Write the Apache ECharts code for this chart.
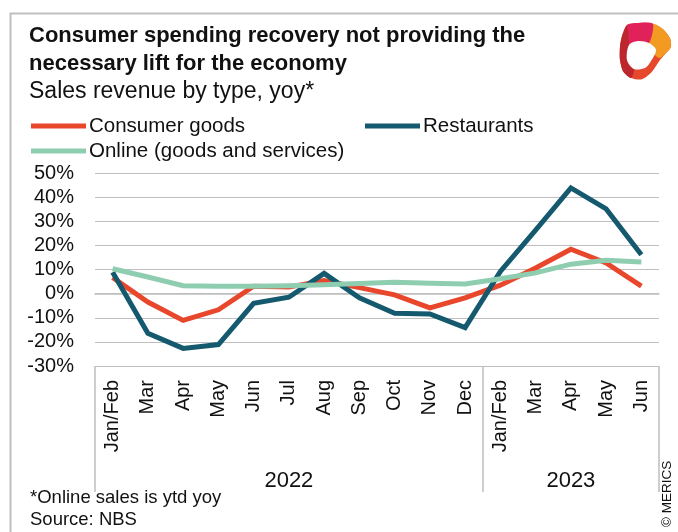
<!DOCTYPE html>
<html>
<head>
<meta charset="utf-8">
<script src="https://cdn.jsdelivr.net/npm/echarts@6/dist/echarts.min.js"></script>
<style>
  html, body { margin: 0; padding: 0; background: #fff; }
  #chart { width: 678px; height: 532px; }
</style>
</head>
<body>
<div id="chart"></div>
<script>
// Month labels (two calendar years) and year groups
const categories = ['Jan/Feb', 'Mar', 'Apr', 'May', 'Jun', 'Jul', 'Aug', 'Sep', 'Oct', 'Nov', 'Dec',
                    'Jan/Feb', 'Mar', 'Apr', 'May', 'Jun'];
const years = ['2022', '2023'];
const yearMonthCounts = [11, 5];

// Sales revenue, year on year change in %
const consumerGoods = [6.7, -3.5, -11.1, -6.7, 3.1, 2.7, 5.4, 2.5, -0.5, -5.9, -1.8, 3.5, 10.6, 18.4, 12.7, 3.1];
const restaurants   = [8.9, -16.4, -22.7, -21.1, -4.0, -1.5, 8.4, -1.7, -8.1, -8.4, -14.1, 9.2, 26.3, 43.8, 35.1, 16.1];
const online        = [10.3, 6.9, 3.3, 3.1, 3.1, 3.3, 3.7, 4.2, 4.7, 4.3, 4.0, 6.2, 8.6, 12.2, 13.8, 13.1];

const seriesNames = ['Consumer goods', 'Restaurants', 'Online (goods and services)'];
const colors = ['#e8472c', '#14596e', '#8ecdb0'];

const FONT = '"Liberation Sans", Arial, sans-serif';
const INK = '#111';
const RULE = '#bfbfbf';

// Year group boundaries and centres on the 0..N band scale
const bounds = [0];
yearMonthCounts.forEach(c => bounds.push(bounds[bounds.length - 1] + c));
const centres = years.map((y, i) => (bounds[i] + bounds[i + 1]) / 2);

const chart = echarts.init(document.getElementById('chart'), null, { renderer: 'canvas' });

function lineSeries(name, data, color) {
  return {
    name, type: 'line', data,
    xAxisIndex: 0, yAxisIndex: 0,
    symbol: 'none', smooth: false,
    lineStyle: { color, width: 5, cap: 'butt', join: 'miter' },
    itemStyle: { color },
    emphasis: { disabled: true },
    animation: false
  };
}

const option = {
  backgroundColor: '#fff',
  animation: false,
  textStyle: { fontFamily: FONT, color: INK },
  title: {
    text: 'Consumer spending recovery not providing the\nnecessary lift for the economy',
    subtext: 'Sales revenue by type, yoy*',
    left: 29, top: 22, padding: 0, itemGap: 2,
    textStyle: { fontFamily: FONT, fontSize: 22, fontWeight: 'bold', color: INK, lineHeight: 28 },
    subtextStyle: { fontFamily: FONT, fontSize: 23, color: INK, lineHeight: 24 }
  },
  legend: [
    {
      data: [seriesNames[0], seriesNames[2]],
      orient: 'vertical', left: 31, top: 114, padding: 0, itemGap: 1,
      itemWidth: 55, itemHeight: 5, icon: 'rect',
      textStyle: { fontFamily: FONT, fontSize: 20.5, color: INK, lineHeight: 24, padding: [0, 0, 0, -2] },
      selectedMode: false
    },
    {
      data: [seriesNames[1]],
      orient: 'vertical', left: 365, top: 114, padding: 0,
      itemWidth: 55, itemHeight: 5, icon: 'rect',
      textStyle: { fontFamily: FONT, fontSize: 20.5, color: INK, lineHeight: 24, padding: [0, 0, 0, -2] },
      selectedMode: false
    }
  ],
  grid: { left: 95, right: 19, top: 173, height: 193, containLabel: false },
  xAxis: [
    {
      type: 'category', data: categories, boundaryGap: true,
      axisLine: { show: true, lineStyle: { color: RULE, width: 1.5 } },
      axisTick: { show: false },
      axisLabel: { interval: 0, rotate: 90, margin: 14, fontSize: 20, fontFamily: FONT, color: INK },
      splitLine: { show: false }
    },
    {
      // year grouping row beneath the month labels
      type: 'value', min: 0, max: bounds[bounds.length - 1],
      position: 'bottom', offset: 126,
      axisLine: { show: false },
      splitLine: { show: false },
      axisTick: { show: true, inside: true, length: 126, customValues: bounds,
                  lineStyle: { color: RULE, width: 1.5 } },
      axisLabel: {
        show: true, inside: true, margin: 0, customValues: centres,
        fontSize: 22, fontFamily: FONT, color: INK,
        formatter: v => {
          const i = centres.findIndex(c => Math.abs(c - v) < 1e-6);
          return i >= 0 ? years[i] : '';
        }
      }
    }
  ],
  yAxis: {
    type: 'value', min: -30, max: 50, interval: 10,
    axisLine: { show: false }, axisTick: { show: false },
    axisLabel: { formatter: '{value}%', margin: 21, fontSize: 20, fontFamily: FONT, color: INK },
    splitLine: { show: true, lineStyle: { color: RULE, width: 1.2 } }
  },
  series: [
    lineSeries(seriesNames[0], consumerGoods, colors[0]),
    lineSeries(seriesNames[1], restaurants, colors[1]),
    lineSeries(seriesNames[2], online, colors[2])
  ],
  graphic: [
    // outer frame
    { type: 'rect', left: 8, top: 11, z: -1, silent: true,
      shape: { x: 0, y: 0, width: 720, height: 600 },
      style: { fill: 'none', stroke: RULE, lineWidth: 2 } },
    // footnotes
    { type: 'text', left: 30, top: 488, silent: true,
      style: { text: '*Online sales is ytd yoy', font: '18.5px ' + FONT, fill: INK } },
    { type: 'text', left: 30, top: 510, silent: true,
      style: { text: 'Source: NBS', font: '18.5px ' + FONT, fill: INK } },
    // copyright, running upwards along the right edge
    { type: 'text', x: 674, y: 527, rotation: Math.PI / 2, silent: true,
      style: { text: '\u00A9 MERICS', font: '13.5px ' + FONT, fill: INK, align: 'left', verticalAlign: 'bottom' } },
    // logo mark: a folded ribbon ring
    { type: 'group', silent: true, children: [
      { type: 'polygon', shape: { smooth: 0.25, points: [[627,25],[642,22.7],[653,24],[663,29.3],[670,38.3],[671,46.7],[667,52],[660,60],[652,71.7],[642,79.3],[632,78.3],[623.3,71.7],[620,60],[620,46.7],[622.3,35]] },
        style: { fill: '#e6482b' } },
      { type: 'polygon', shape: { smooth: 0.25, points: [[653,24],[663,29.3],[670,38.3],[671,46.7],[667,52],[660,58],[655,55],[655,49],[649,43]] },
        style: { fill: '#f29a22' } },
      { type: 'polygon', shape: { smooth: 0.25, points: [[627,25],[642,22.7],[653,24],[649,43],[638,41],[629,45],[624,38]] },
        style: { fill: '#e0215a' } },
      { type: 'polygon', shape: { smooth: 0.25, points: [[622.3,35],[627,26],[629,45],[627,60],[634,69],[631,78],[623.3,71.7],[620,60],[620,46.7]] },
        style: { fill: '#bb272d' } },
      { type: 'polygon', shape: { smooth: 0.3, points: [[629,45],[638,41],[649,43],[656,50],[651,61],[645,68],[634,69],[627,60]] },
        style: { fill: '#fff' } }
    ] }
  ]
};

chart.setOption(option);
</script>
</body>
</html>
